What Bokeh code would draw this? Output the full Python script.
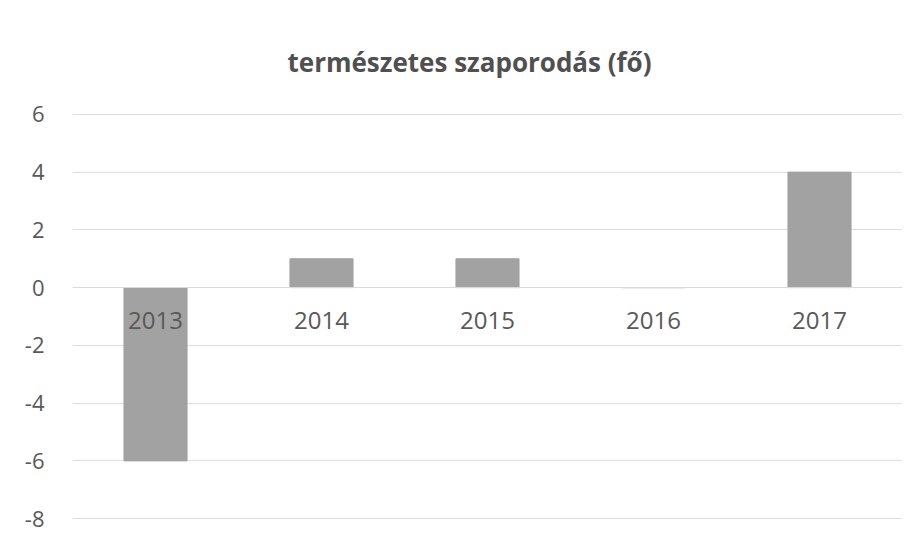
from bokeh.plotting import figure
from bokeh.embed import file_html
from bokeh.resources import INLINE
from bokeh.models import FixedTicker, Range1d, PrintfTickFormatter

years = ["2013", "2014", "2015", "2016", "2017"]
values = [-6, 1, 1, 0, 4]
y_ticks = [-8, -6, -4, -2, 0, 2, 4, 6]
title_text = "természetes szaporodás (fő)"

p = figure(frame_width=830, frame_height=406, x_range=years,
           y_range=Range1d(-8.03, 6.03),
           output_backend="svg", toolbar_location=None,
           title=title_text, min_border_left=72, min_border_right=5,
           min_border_top=113, min_border_bottom=12)
p.vbar(x=years, top=values, bottom=0, width=0.38, color="#a2a2a2")

p.title.align = "left"
p.title.text_font = "Open Sans"
p.title.text_font_size = "26px"
p.title.text_font_style = "bold"
p.title.text_color = "#505050"
p.title.offset = 215
p.title.standoff = 68

p.yaxis.ticker = FixedTicker(ticks=y_ticks)
p.yaxis.formatter = PrintfTickFormatter(format="%d")
p.yaxis.axis_line_color = None
p.yaxis.major_tick_line_color = None
p.yaxis.minor_tick_line_color = None
p.yaxis.major_label_text_font = "Open Sans"
p.yaxis.major_label_text_font_size = "22px"
p.yaxis.major_label_text_color = "#595959"
p.yaxis.major_label_standoff = 22

p.xaxis.fixed_location = 0
p.xaxis.axis_line_color = "#d9d9d9"
p.xaxis.major_tick_line_color = None
p.xaxis.minor_tick_line_color = None
p.xaxis.major_label_text_font = "Open Sans"
p.xaxis.major_label_text_font_size = "24px"
p.xaxis.major_label_text_color = "#595959"
p.xaxis.major_label_standoff = 18

p.xgrid.grid_line_color = None
p.ygrid.grid_line_color = "#dedede"
p.outline_line_color = None
p.border_fill_color = "white"

open("out.html", "w").write(file_html(p, INLINE))
